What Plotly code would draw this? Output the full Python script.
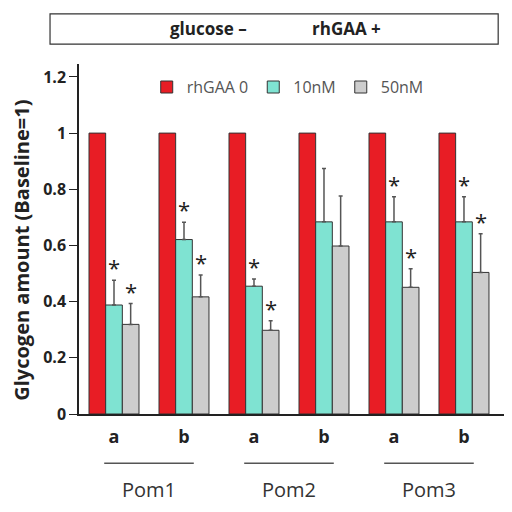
import plotly.graph_objects as go

# data
samples = ["a", "b", "a", "b", "a", "b"]
strains = ["Pom1", "Pom2", "Pom3"]
series_names = ["rhGAA 0", "10nM", "50nM"]

ctrl = [1, 1, 1, 1, 1, 1]
nm10 = [0.388, 0.621, 0.455, 0.684, 0.684, 0.684]
nm10_err = [0.088, 0.062, 0.026, 0.190, 0.089, 0.089]
nm50 = [0.319, 0.417, 0.298, 0.598, 0.451, 0.504]
nm50_err = [0.074, 0.078, 0.034, 0.178, 0.066, 0.138]
nm10_star = [True, True, True, False, True, True]
nm50_star = [True, True, True, False, True, True]

colors = ["#e81d25", "#7fe3d2", "#cdcdcd"]
font = "Open Sans"
xs = list(range(len(samples)))

fig = go.Figure()
fig.add_trace(go.Bar(x=xs, y=ctrl, name=series_names[0],
                     marker=dict(color=colors[0], line=dict(color="#333", width=1))))
fig.add_trace(go.Bar(x=xs, y=nm10, name=series_names[1],
                     marker=dict(color=colors[1], line=dict(color="#333", width=1)),
                     error_y=dict(type="data", symmetric=False, array=nm10_err,
                                  arrayminus=[0] * 6, color="#555", thickness=1.5, width=2)))
fig.add_trace(go.Bar(x=xs, y=nm50, name=series_names[2],
                     marker=dict(color=colors[2], line=dict(color="#333", width=1)),
                     error_y=dict(type="data", symmetric=False, array=nm50_err,
                                  arrayminus=[0] * 6, color="#555", thickness=1.5, width=2)))

bar_w = (1 - 0.286) / 3

# asterisks above error bars
for i in xs:
    if nm10_star[i]:
        fig.add_annotation(x=i, y=nm10[i] + nm10_err[i], text="*", showarrow=False,
                           xanchor="center", yanchor="middle", yshift=13,
                           font=dict(size=22, color="#222", family=font))
    if nm50_star[i]:
        fig.add_annotation(x=i + bar_w, y=nm50[i] + nm50_err[i], text="*", showarrow=False,
                           xanchor="center", yanchor="middle", yshift=13,
                           font=dict(size=22, color="#222", family=font))

# strain group lines and labels
for k, s in enumerate(strains):
    c = 2 * k + 0.5
    fig.add_shape(type="line", xref="x", yref="paper", x0=c - 0.64, x1=c + 0.64,
                  y0=-0.141, y1=-0.141, line=dict(color="#555", width=1.5))
    fig.add_annotation(x=c, xref="x", yref="paper", y=-0.215, text=s, showarrow=False,
                       xanchor="center", yanchor="middle",
                       font=dict(size=20, color="#333", family=font))

# header box
fig.add_shape(type="rect", xref="paper", yref="paper", x0=-0.068, x1=0.984,
              y0=1.057, y1=1.143, line=dict(color="#333", width=1.2))
fig.add_annotation(xref="paper", yref="paper", x=0.303, y=1.1, text="<b>glucose –</b>",
                   showarrow=False, xanchor="center", yanchor="middle",
                   font=dict(size=17, color="#222", family=font))
fig.add_annotation(xref="paper", yref="paper", x=0.629, y=1.1, text="<b>rhGAA +</b>",
                   showarrow=False, xanchor="center", yanchor="middle",
                   font=dict(size=17, color="#222", family=font))

# y axis title
fig.add_annotation(xref="paper", yref="paper", x=-0.134, y=0.469, textangle=-90,
                   text="<b>Glycogen amount (Baseline=1)</b>", showarrow=False,
                   xanchor="center", yanchor="middle",
                   font=dict(size=20, color="#222", family=font))

fig.update_layout(
    width=504, height=504,
    margin=dict(l=71, r=7, t=56, b=98),
    barmode="group", bargap=0.286, bargroupgap=0,
    plot_bgcolor="white", paper_bgcolor="white",
    font=dict(family=font, color="#222"),
    legend=dict(orientation="h", x=0.159, y=0.934, yanchor="middle", xanchor="left",
                font=dict(size=16, color="#555"), bgcolor="rgba(0,0,0,0)"),
    xaxis=dict(range=[-0.5, 5.586], tickvals=xs, ticktext=["<b>%s</b>" % s for s in samples],
               tickfont=dict(size=18, color="#222"), showline=True, linecolor="#222",
               linewidth=1.5, ticks="", showgrid=False, zeroline=False,
               ticklabelstandoff=6),
    yaxis=dict(range=[0, 1.246], tickvals=[0, 0.2, 0.4, 0.6, 0.8, 1, 1.2],
               ticktext=["<b>0</b>", "<b>0.2</b>", "<b>0.4</b>", "<b>0.6</b>", "<b>0.8</b>",
                         "<b>1</b>", "<b>1.2</b>"],
               tickfont=dict(size=16, color="#222"), ticks="outside", ticklen=8,
               tickcolor="#222", showline=True, linecolor="#222", linewidth=1.5,
               showgrid=False, zeroline=False, automargin=False),
)

fig.write_html("out.html")
